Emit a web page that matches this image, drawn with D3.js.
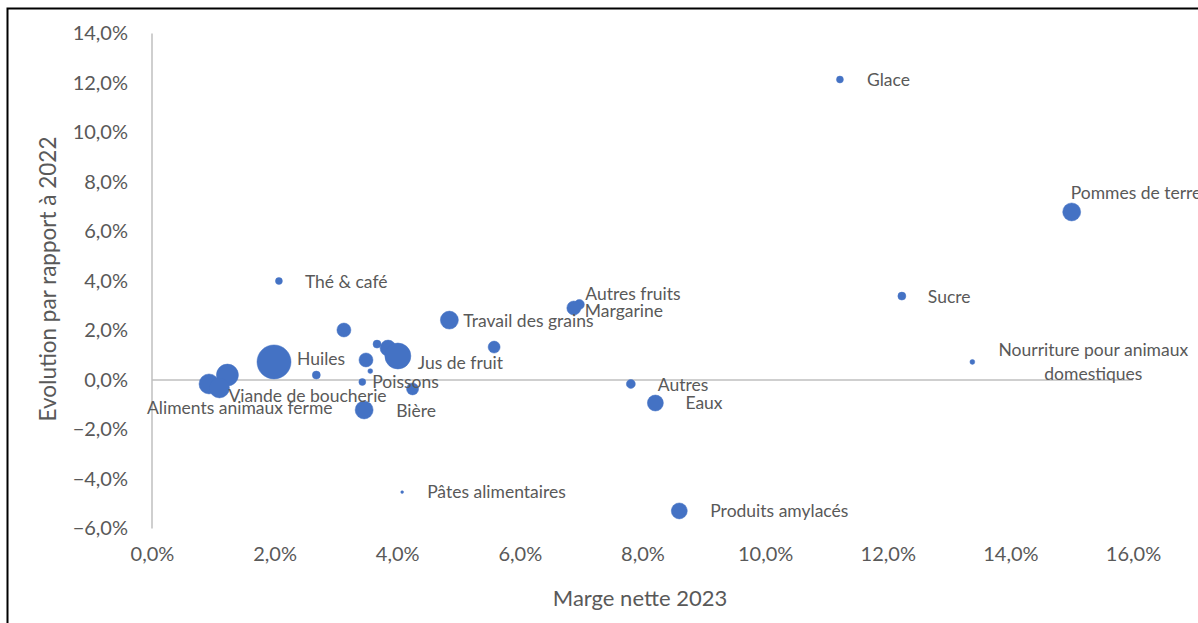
<!DOCTYPE html>
<html><head><meta charset="utf-8">
<script src="https://cdn.jsdelivr.net/npm/d3@7"></script>
<style>
html,body{margin:0;padding:0;background:#fff;overflow:hidden}
text{font-family:Lato, "Open Sans", sans-serif;fill:#595959}
</style></head>
<body>
<svg id="chart" width="1198" height="623"></svg>
<script>
// ---- data ----
const names = ["Glace","Pommes de terre","Sucre","Nourriture pour animaux|domestiques","Thé & café","Autres fruits","Margarine","Travail des grains","","","","","Jus de fruit","Huiles","","","","Poissons","","Bière","Viande de boucherie","Aliments animaux ferme","","Autres","Eaux","Produits amylacés","Pâtes alimentaires"];
const marge = [11.22,15.0,12.23,13.38,2.07,6.97,6.88,4.85,5.58,3.13,3.67,3.85,4.01,1.99,2.68,3.49,3.56,3.43,4.25,3.46,1.23,0.93,1.10,7.81,8.21,8.60,4.08];
const evolution = [12.14,6.79,3.39,0.73,4.0,3.05,2.91,2.42,1.33,2.02,1.45,1.29,0.97,0.73,0.2,0.81,0.36,-0.08,-0.36,-1.21,0.2,-0.16,-0.32,-0.16,-0.93,-5.29,-4.53];
const taille = [12,81,16,6,12,25,49,81,36,49,16,64,169,289,16,49,6,12,36,81,121,100,100,20,64,64,2];
const xTicks = [0,2,4,6,8,10,12,14,16];
const yTicks = [-6,-4,-2,0,2,4,6,8,10,12,14];
// label offsets (px) relative to bubble centre, and anchor
const labelOffsets = [[27,0,"start"],[-1,-19,"start"],[26,1,"start"],[121,0,"middle"],[26,1,"start"],[6,-11,"start"],[11,3,"start"],[14,1,"start"],[0,0,"start"],[0,0,"start"],[0,0,"start"],[0,0,"start"],[20,7,"start"],[23,-3,"start"],[0,0,"start"],[0,0,"start"],[0,0,"start"],[10,0,"start"],[0,0,"start"],[32,1,"start"],[1,21,"start"],[-62,24,"start"],[0,0,"start"],[27,1,"start"],[30,0,"start"],[31,0,"start"],[25,0,"start"]];

const svg = d3.select("#chart");
const fmt = v => d3.format(".1f")(v).replace(".", ",") + "%";

// frame
svg.append("rect").attr("x",7.5).attr("y",8.5).attr("width",1400).attr("height",800)
  .attr("fill","none").attr("stroke","#000").attr("stroke-width",2);

const x = d3.scaleLinear().domain([0,16]).range([152,1133]);
const y = d3.scaleLinear().domain([-6,14]).range([528.5,33.5]);
const r = d3.scaleSqrt().domain([0, d3.max(taille)]).range([0,17]);

// axes lines
svg.append("line").attr("x1",x(0)).attr("x2",x(0)).attr("y1",y(14)).attr("y2",y(-6))
  .attr("stroke","#BFBFBF").attr("stroke-width",1.5);
svg.append("line").attr("x1",x(0)).attr("x2",x(16)).attr("y1",y(0)).attr("y2",y(0))
  .attr("stroke","#BFBFBF").attr("stroke-width",1.5);

// y ticks
const yAxis = d3.axisLeft(y).tickValues(yTicks).tickFormat(fmt).tickSize(0).tickPadding(24);
const gy = svg.append("g").attr("transform",`translate(${x(0)},0)`).call(yAxis);
gy.select(".domain").remove();
gy.selectAll("text").style("font-size","20px").style("fill","#595959").style("font-family","Lato, sans-serif");

// x ticks
const xAxis = d3.axisBottom(x).tickValues(xTicks).tickFormat(fmt).tickSize(0).tickPadding(0);
const gx = svg.append("g").attr("transform",`translate(0,${y(-6)+18})`).call(xAxis);
gx.select(".domain").remove();
gx.selectAll("text").style("font-size","20px").style("fill","#595959").style("font-family","Lato, sans-serif");

// titles
svg.append("text").attr("x",640).attr("y",606).attr("text-anchor","middle")
  .style("font-size","22px").text("Marge nette 2023");
svg.append("text").attr("transform","translate(56,279) rotate(-90)").attr("text-anchor","middle")
  .style("font-size","22.5px").text("Evolution par rapport à 2022");

// bubbles
const data = names.map((n,i)=>({n, x:marge[i], y:evolution[i], s:taille[i], o:labelOffsets[i]}));
svg.append("g").selectAll("circle").data(data).join("circle")
  .attr("cx",d=>x(d.x)).attr("cy",d=>y(d.y)).attr("r",d=>r(d.s))
  .attr("fill","#4472C4").attr("stroke","#4472C4").attr("stroke-width",0.5);

// labels
const lg = svg.append("g");
data.filter(d=>d.n).forEach(d=>{
  const t = lg.append("text").attr("x",x(d.x)+d.o[0]).attr("y",y(d.y)+d.o[1])
    .attr("text-anchor",d.o[2]).style("font-size","17.5px");
  const lines = d.n.split("|");
  const n = lines.length;
  lines.forEach((l,k)=>{
    t.append("tspan").attr("x",x(d.x)+d.o[0])
      .attr("dy", k===0 ? (0.35 - (n-1)*0.7) + "em" : "1.4em").text(l);
  });
});
</script>
</body></html>
